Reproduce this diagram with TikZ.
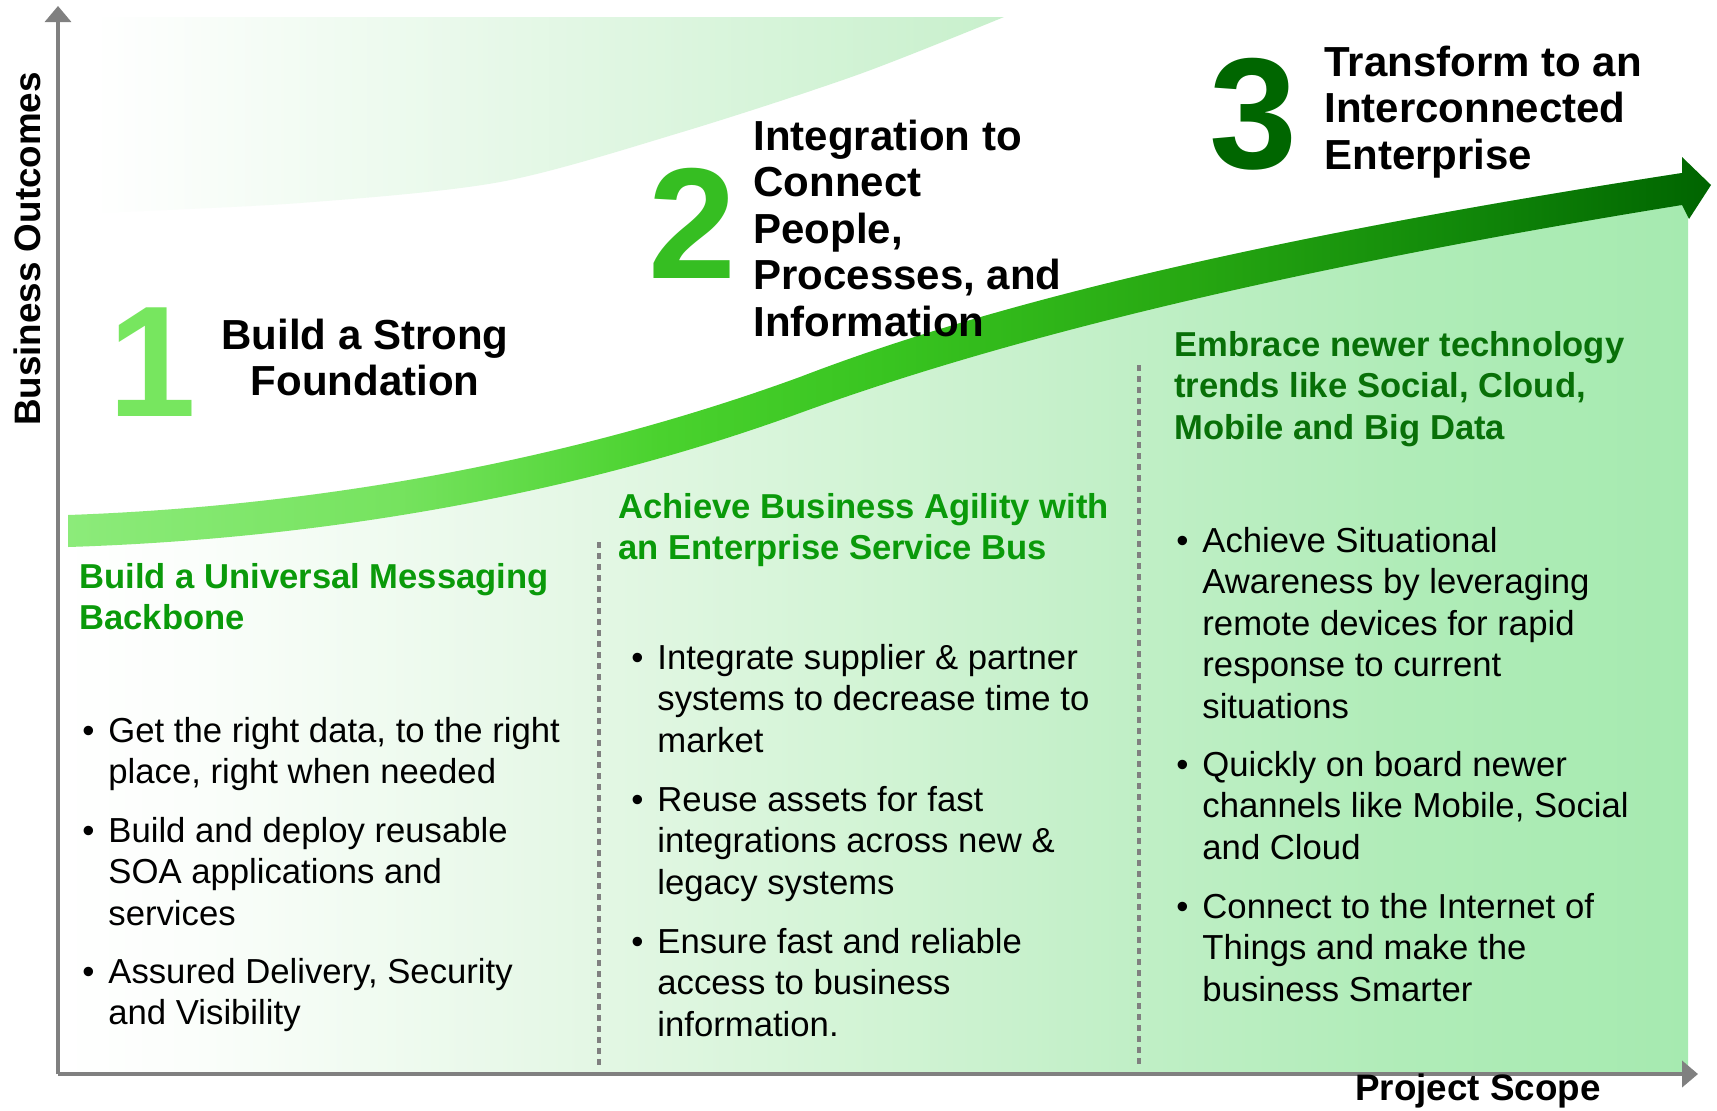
\documentclass[tikz,border=0pt]{standalone}
\usepackage{fontspec}
\setmainfont{Liberation Sans}
\usetikzlibrary{arrows.meta}
\definecolor{bandA}{HTML}{8CEB7A}
\definecolor{bandB}{HTML}{76E35F}
\definecolor{bandC}{HTML}{4AD22E}
\definecolor{bandD}{HTML}{38C420}
\definecolor{bandE}{HTML}{27A812}
\definecolor{bandF}{HTML}{128A0A}
\definecolor{bandG}{HTML}{006400}
\definecolor{fillA}{HTML}{FFFFFF}
\definecolor{fillB}{HTML}{FBFEFB}
\definecolor{fillC}{HTML}{E3F7E4}
\definecolor{fillD}{HTML}{D0F3D3}
\definecolor{fillE}{HTML}{C0EFC6}
\definecolor{fillF}{HTML}{B0ECB8}
\definecolor{fillG}{HTML}{A6EAB0}
\definecolor{topg}{HTML}{C8F0CC}
\definecolor{axisgray}{HTML}{808080}
\definecolor{numone}{HTML}{77E65F}
\definecolor{numtwo}{HTML}{36BE22}
\definecolor{numthree}{HTML}{006600}
\definecolor{headgreen}{HTML}{0A9A0A}
\definecolor{headdark}{HTML}{087008}
\pgfdeclarehorizontalshading{bandshade}{100bp}{color(0bp)=(bandA); color(25bp)=(bandA); color(35bp)=(bandB); color(43bp)=(bandC); color(50bp)=(bandD); color(59bp)=(bandE); color(67bp)=(bandF); color(75bp)=(bandG); color(100bp)=(bandG)}
\pgfdeclarehorizontalshading{fillshade}{100bp}{color(0bp)=(fillA); color(25bp)=(fillA); color(29bp)=(fillB); color(41.6bp)=(fillC); color(50.8bp)=(fillD); color(58.1bp)=(fillE); color(66.2bp)=(fillF); color(75bp)=(fillG); color(100bp)=(fillG)}
\begin{document}
\begin{tikzpicture}[x=0.5pt,y=-0.5pt,
  axisline/.style={draw=axisgray, line width=1.6pt, -{Triangle[length=8pt,width=13pt]}},
  sepline/.style={draw=axisgray, line width=2pt, dash pattern=on 3pt off 2.5pt},
  titletext/.style={font=\bfseries\fontsize{21}{23.25}\selectfont, inner sep=0pt, align=left},
  ghead/.style={font=\bfseries\fontsize{17.3}{20.8}\selectfont, inner sep=0pt, align=left, text=headgreen},
  bodytext/.style={font=\fontsize{17.35}{20.8}\selectfont, inner sep=0pt, align=left, anchor=base west},
  bul/.style={font=\fontsize{17.35}{20.8}\selectfont, inner sep=0pt, anchor=base west},
  bignum/.style={font=\bfseries\fontsize{79}{80}\selectfont, inner sep=0pt, anchor=base},
  axislabel/.style={font=\bfseries\fontsize{18.4}{20}\selectfont, inner sep=0pt}]
\useasboundingbox (0,0) rectangle (1717,1110);
\fill[white] (0,0) rectangle (1717,1110);
% upper light area
\shade[left color=white, right color=topg] (93,17) -- (1004,17) -- plot[smooth] coordinates {(1004,17) (857,75) (679,133) (500,182) (300,203) (93,213)} -- cycle;
% light green area under the curve
\shade[shading=fillshade] (60,515) -- (68,515) .. controls (350,505) and (600,450) .. (800,377) .. controls (1000,300) and (1280,235) .. (1682,173) -- (1688,172) -- (1688,1072) -- (60,1072) -- cycle;
% growth band arrow
\shade[shading=bandshade] (68,515) .. controls (350,505) and (600,450) .. (800,377) .. controls (1000,300) and (1280,235) .. (1682,173) -- (1682,157) -- (1711,185) -- (1689,219) -- (1682,205) .. controls (1280,270) and (1000,340) .. (800,413) .. controls (600,486) and (350,538) .. (68,547) -- cycle;
% axes
\coordinate (origin) at (58,1074);
\coordinate (ytip) at (58,6);
\coordinate (xtip) at (1698,1074);
\draw[axisline] (origin) -- (ytip);
\draw[axisline, line width=2pt] (origin) -- (xtip);
% separators
\coordinate (s1top) at (599,542);
\coordinate (s1bot) at (599,1068);
\coordinate (s2top) at (1139,365);
\coordinate (s2bot) at (1139,1068);
\draw[sepline] (s1top) -- (s1bot);
\draw[sepline] (s2top) -- (s2bot);
% axis labels
\node[axislabel, rotate=90] (ylab) at (27.5,249) {Business Outcomes};
\node[axislabel, anchor=base] (xlab) at (1478,1100) {Project Scope};
% big numbers
\node[bignum, text=numone] (n1) at (152,416) {1};
\node[bignum, text=numtwo] (n2) at (692,278) {2};
\node[bignum, text=numthree] (n3) at (1253,168) {3};
% stage titles (anchor = baseline of last line)
\node[titletext, align=center, anchor=base] (t1) at (365,395.5) {Build a Strong\\Foundation};
\node[titletext, anchor=base west] (t2) at (753,336) {Integration to\\Connect\\People,\\Processes, and\\Information};
\node[titletext, anchor=base west] (t3) at (1324,169) {Transform to an\\Interconnected\\Enterprise};
% green headings
\node[ghead, anchor=base west] (g1) at (79,629.6) {Build a Universal Messaging\\Backbone};
\node[ghead, anchor=base west] (g2) at (618,559.6) {Achieve Business Agility with\\an Enterprise Service Bus};
\node[ghead, anchor=base west, text=headdark] (g3) at (1174,439.2) {Embrace newer technology\\trends like Social, Cloud,\\Mobile and Big Data};
% column 1
\node[bul] (c1ba) at (82,742) {•};
\node[bodytext] (c1a) at (108,783.6) {Get the right data, to the right\\place, right when needed};
\node[bul] (c1bb) at (82,842) {•};
\node[bodytext] (c1b) at (108,925.2) {Build and deploy reusable\\SOA applications and\\services};
\node[bul] (c1bc) at (82,983) {•};
\node[bodytext] (c1c) at (108,1024.6) {Assured Delivery, Security\\and Visibility};
% column 2
\node[bul] (c2ba) at (631,669) {•};
\node[bodytext] (c2a) at (657,752.2) {Integrate supplier \& partner\\systems to decrease time to\\market};
\node[bul] (c2bb) at (631,811) {•};
\node[bodytext] (c2b) at (657,894.2) {Reuse assets for fast\\integrations across new \&\\legacy systems};
\node[bul] (c2bc) at (631,953) {•};
\node[bodytext] (c2c) at (657,1036.2) {Ensure fast and reliable\\access to business\\information.};
% column 3
\node[bul] (c3ba) at (1176,552) {•};
\node[bodytext] (c3a) at (1202,718.4) {Achieve Situational\\Awareness by leveraging\\remote devices for rapid\\response to current\\situations};
\node[bul] (c3bb) at (1176,776) {•};
\node[bodytext] (c3b) at (1202,859.2) {Quickly on board newer\\channels like Mobile, Social\\and Cloud};
\node[bul] (c3bc) at (1176,918) {•};
\node[bodytext] (c3c) at (1202,1001.2) {Connect to the Internet of\\Things and make the\\business Smarter};
\end{tikzpicture}
\end{document}
